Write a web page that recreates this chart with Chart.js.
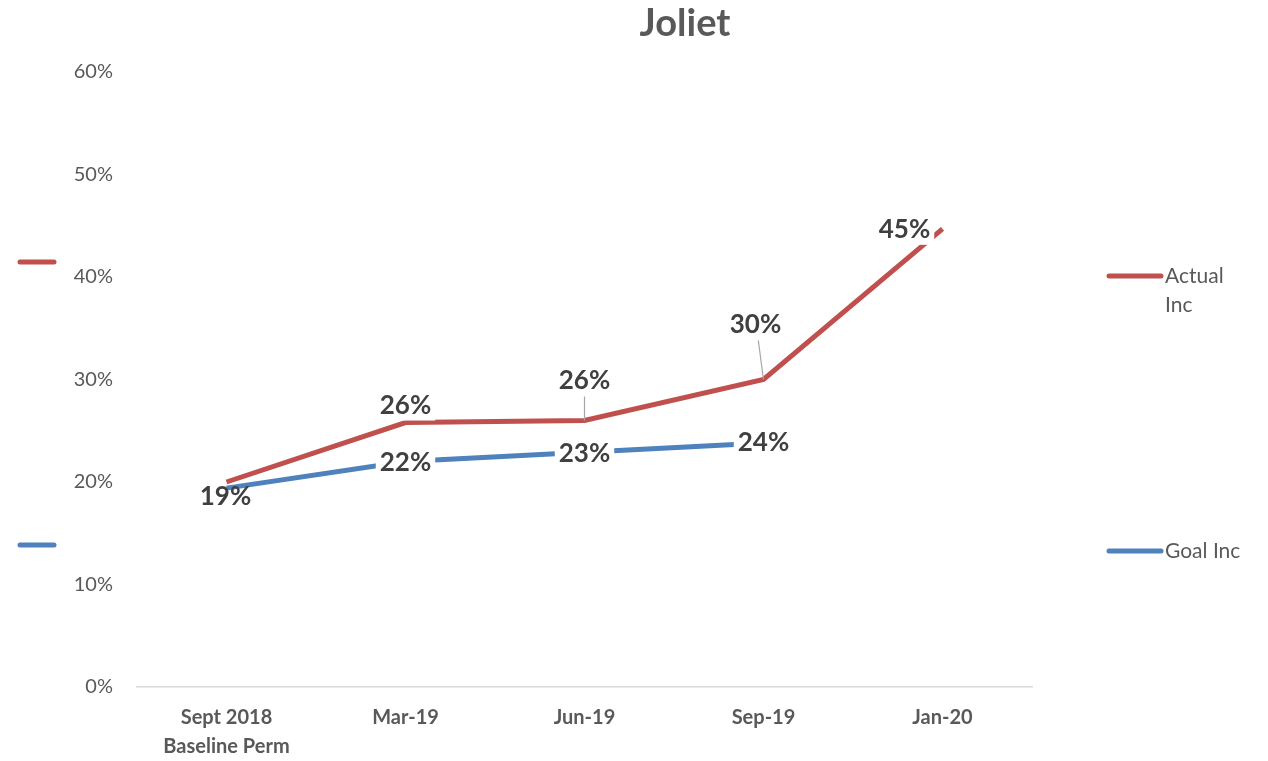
<!DOCTYPE html>
<html>
<head>
<meta charset="utf-8">
<title>Joliet</title>
<script src="https://cdn.jsdelivr.net/npm/chart.js"></script>
<style>
  html, body { margin: 0; padding: 0; background: #fff; }
  #wrap { width: 1268px; height: 761px; position: relative; }
</style>
</head>
<body>
<div id="wrap"><canvas id="chart" width="1268" height="761"></canvas></div>
<script>
// Chart data
const categories = [['Sept 2018', 'Baseline Perm'], 'Mar-19', 'Jun-19', 'Sep-19', 'Jan-20'];
const actualInc = [20.0, 25.8, 26.0, 30.0, 44.7];
const goalInc = [19.4, 22.0, 22.9, 23.8, null];
const actualLabels = [null, '26%', '26%', '30%', '45%'];
const goalLabels = ['19%', '22%', '23%', '24%', null];
const yTicks = [0, 10, 20, 30, 40, 50, 60];

const RED = '#C0504D';
const BLUE = '#4F81BD';
const TEXT = '#595959';
const LABEL = '#404040';
const FONT = 'Lato, "Open Sans", sans-serif';

// label placement relative to the point (dx, dy), leader = thin line to the point, bare = no white box
const labelPlacement = {
    0: [null,
        { dx: 0, dy: -17 },
        { dx: 0, dy: -40, leader: true },
        { dx: -8, dy: -55, leader: true },
        { dx: -38, dy: 1 }],
    1: [{ dx: -1, dy: 8, bare: true },
        { dx: 0, dy: 1 },
        { dx: 0, dy: 1 },
        { dx: 0, dy: 0 },
        null]
};

const labelPlugin = {
    id: 'pointLabels',
    afterDatasetsDraw(chart) {
        const ctx = chart.ctx;
        const sets = [actualLabels, goalLabels];
        ctx.save();
        ctx.font = 'bold 26px ' + FONT;
        ctx.textAlign = 'center';
        ctx.textBaseline = 'middle';
        // goal labels first so actual ones sit on top
        [1, 0].forEach(di => {
            const meta = chart.getDatasetMeta(di);
            meta.data.forEach((pt, i) => {
                const txt = sets[di][i];
                const pl = labelPlacement[di][i];
                if (!txt || !pl) return;
                const x = pt.x + pl.dx;
                const y = pt.y + pl.dy;
                const w = ctx.measureText(txt).width + 8;
                if (pl.leader) {
                    ctx.strokeStyle = '#a6a6a6';
                    ctx.lineWidth = 1.2;
                    ctx.beginPath();
                    ctx.moveTo(x + (pt.x - x) * 0.35, y + 16);
                    ctx.lineTo(pt.x, pt.y);
                    ctx.stroke();
                } else if (!pl.bare) {
                    ctx.fillStyle = '#fff';
                    ctx.fillRect(x - w / 2, y - 15, w, 30);
                }
                ctx.fillStyle = LABEL;
                ctx.fillText(txt, x, y);
            });
        });
        ctx.restore();
    }
};

const decorPlugin = {
    id: 'decor',
    afterDraw(chart) {
        const ctx = chart.ctx;
        ctx.save();
        // title
        ctx.fillStyle = TEXT;
        ctx.font = 'bold 38px ' + FONT;
        ctx.textAlign = 'center';
        ctx.textBaseline = 'middle';
        ctx.fillText('Joliet', 685, 24);

        ctx.lineCap = 'round';
        ctx.lineWidth = 5;
        const stub = (color, x1, x2, y) => {
            ctx.strokeStyle = color;
            ctx.beginPath();
            ctx.moveTo(x1, y);
            ctx.lineTo(x2, y);
            ctx.stroke();
        };
        // stray legend markers on the left
        stub(RED, 20, 54, 262);
        stub(BLUE, 20, 54, 545);
        // legend on the right
        stub(RED, 1109, 1161, 276);
        stub(BLUE, 1109, 1161, 551);
        ctx.fillStyle = TEXT;
        ctx.font = '21px ' + FONT;
        ctx.textAlign = 'left';
        ctx.fillText('Actual', 1165, 276);
        ctx.fillText('Inc', 1165, 305);
        ctx.fillText('Goal Inc', 1165, 551);
        ctx.restore();
    }
};

new Chart(document.getElementById('chart'), {
    type: 'line',
    data: {
        labels: categories,
        datasets: [{
            label: 'Actual Inc',
            data: actualInc,
            borderColor: RED,
            backgroundColor: RED,
            borderWidth: 5,
            pointRadius: 0,
            tension: 0
        }, {
            label: 'Goal Inc',
            data: goalInc,
            borderColor: BLUE,
            backgroundColor: BLUE,
            borderWidth: 5,
            pointRadius: 0,
            tension: 0
        }]
    },
    options: {
        responsive: false,
        animation: false,
        layout: { padding: { left: 0, right: 236, top: 72, bottom: 0 } },
        plugins: {
            legend: { display: false },
            title: { display: false },
            tooltip: { enabled: false }
        },
        scales: {
            x: {
                offset: true,
                grid: { display: false, drawTicks: false },
                border: { display: true, color: '#d9d9d9', width: 1.5 },
                ticks: {
                    color: TEXT,
                    font: { family: FONT, size: 20, weight: 'bold', lineHeight: 1.45 },
                    padding: 16,
                    maxRotation: 0
                },
                afterFit(scale) { scale.height = 74; }
            },
            y: {
                min: 0,
                max: 60,
                afterBuildTicks(scale) { scale.ticks = yTicks.map(v => ({ value: v })); },
                grid: { display: false, drawTicks: false },
                border: { display: false },
                ticks: {
                    color: TEXT,
                    font: { family: FONT, size: 20 },
                    padding: 24,
                    callback: v => v + '%'
                },
                afterFit(scale) { scale.width = 137; }
            }
        }
    },
    plugins: [labelPlugin, decorPlugin]
});
</script>
</body>
</html>
